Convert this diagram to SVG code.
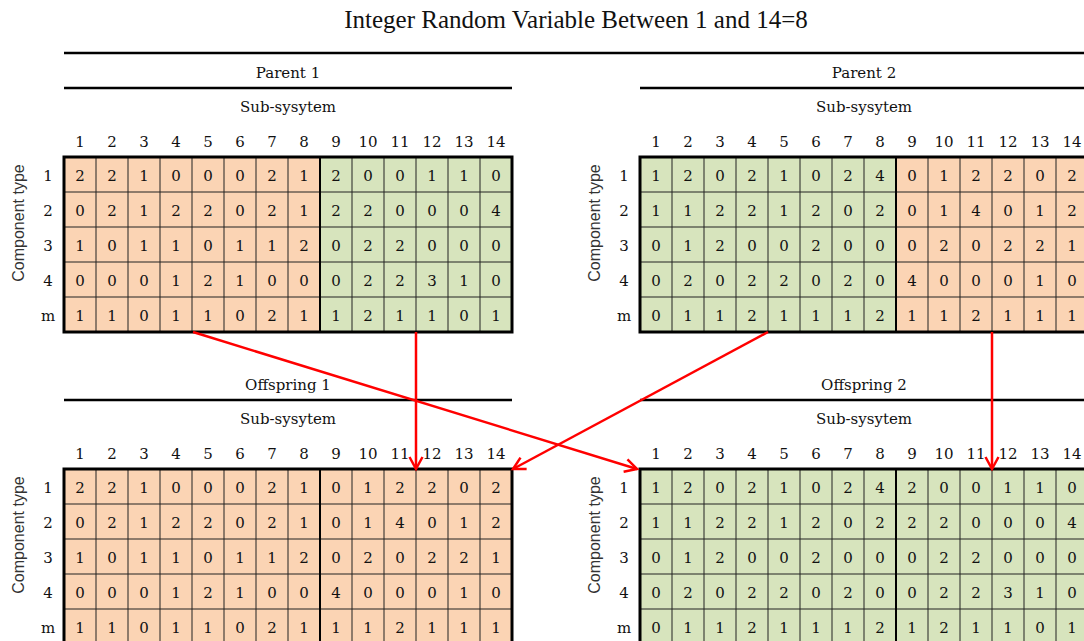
<svg xmlns="http://www.w3.org/2000/svg" xmlns:xlink="http://www.w3.org/1999/xlink" width="1084" height="641" viewBox="0 0 1084 641">
<style>
.t{font-family:"DejaVu Serif","Liberation Serif",serif;font-size:15px;fill:#111;text-anchor:middle}
.ct{font-family:"Liberation Sans",Arial,sans-serif;font-size:16px;fill:#333;text-anchor:middle}
.ti{font-family:"Liberation Serif","Times New Roman",serif;font-size:25px;fill:#111;text-anchor:middle}
.rule{stroke:#000;stroke-width:2.5;fill:none}
.thin{stroke:#222;stroke-width:1;fill:none}
.split{stroke:#000;stroke-width:2;fill:none}
.border{stroke:#000;stroke-width:3;fill:none}
.or{fill:#FBD4B4}
.gr{fill:#D7E4BD}
.arr{stroke:#FF0000;stroke-width:2.5;fill:none;marker-end:url(#ah)}
</style>
<defs>
<marker id="ah" markerUnits="userSpaceOnUse" markerWidth="18" markerHeight="18" viewBox="-15 -9 18 18" refX="0" refY="0" orient="auto">
<path d="M-12,-6.5 L0,0 L-12,6.5" fill="none" stroke="#FF0000" stroke-width="2.5"/>
</marker>
<g id="frame">
<path class="thin" d="M32 0V175M64 0V175M96 0V175M128 0V175M160 0V175M192 0V175M224 0V175M288 0V175M320 0V175M352 0V175M384 0V175M416 0V175M0 35H448M0 70H448M0 105H448M0 140H448"/>
<path class="split" d="M256 0V175"/>
<rect class="border" x="0" y="0" width="448" height="175"/>
</g>
</defs>
<rect width="1084" height="641" fill="#fff"/>
<g id="title"><text class="ti" x="576" y="28">Integer Random Variable Between 1 and 14=8</text></g>
<path class="rule" d="M64 53H1084"/>

<g id="parent1" transform="translate(64,157)">
<rect class="or" x="0" y="0" width="256" height="175"/><rect class="gr" x="256" y="0" width="192" height="175"/>
<use xlink:href="#frame"/>
<path class="rule" d="M0 -69H448"/>
<text class="t" x="224" y="-79">Parent 1</text>
<text class="t" x="224" y="-45">Sub-sysytem</text>
<text class="ct" transform="translate(-40,66) rotate(-90)">Component type</text>
<text class="t" x="16" y="-10">1</text><text class="t" x="48" y="-10">2</text><text class="t" x="80" y="-10">3</text><text class="t" x="112" y="-10">4</text><text class="t" x="144" y="-10">5</text><text class="t" x="176" y="-10">6</text><text class="t" x="208" y="-10">7</text><text class="t" x="240" y="-10">8</text><text class="t" x="272" y="-10">9</text><text class="t" x="304" y="-10">10</text><text class="t" x="336" y="-10">11</text><text class="t" x="368" y="-10">12</text><text class="t" x="400" y="-10">13</text><text class="t" x="432" y="-10">14</text>
<text class="t" x="-16" y="24">1</text><text class="t" x="-16" y="59">2</text><text class="t" x="-16" y="94">3</text><text class="t" x="-16" y="129">4</text><text class="t" x="-16" y="164">m</text>
<text class="t" x="16" y="24">2</text><text class="t" x="48" y="24">2</text><text class="t" x="80" y="24">1</text><text class="t" x="112" y="24">0</text><text class="t" x="144" y="24">0</text><text class="t" x="176" y="24">0</text><text class="t" x="208" y="24">2</text><text class="t" x="240" y="24">1</text><text class="t" x="272" y="24">2</text><text class="t" x="304" y="24">0</text><text class="t" x="336" y="24">0</text><text class="t" x="368" y="24">1</text><text class="t" x="400" y="24">1</text><text class="t" x="432" y="24">0</text>
<text class="t" x="16" y="59">0</text><text class="t" x="48" y="59">2</text><text class="t" x="80" y="59">1</text><text class="t" x="112" y="59">2</text><text class="t" x="144" y="59">2</text><text class="t" x="176" y="59">0</text><text class="t" x="208" y="59">2</text><text class="t" x="240" y="59">1</text><text class="t" x="272" y="59">2</text><text class="t" x="304" y="59">2</text><text class="t" x="336" y="59">0</text><text class="t" x="368" y="59">0</text><text class="t" x="400" y="59">0</text><text class="t" x="432" y="59">4</text>
<text class="t" x="16" y="94">1</text><text class="t" x="48" y="94">0</text><text class="t" x="80" y="94">1</text><text class="t" x="112" y="94">1</text><text class="t" x="144" y="94">0</text><text class="t" x="176" y="94">1</text><text class="t" x="208" y="94">1</text><text class="t" x="240" y="94">2</text><text class="t" x="272" y="94">0</text><text class="t" x="304" y="94">2</text><text class="t" x="336" y="94">2</text><text class="t" x="368" y="94">0</text><text class="t" x="400" y="94">0</text><text class="t" x="432" y="94">0</text>
<text class="t" x="16" y="129">0</text><text class="t" x="48" y="129">0</text><text class="t" x="80" y="129">0</text><text class="t" x="112" y="129">1</text><text class="t" x="144" y="129">2</text><text class="t" x="176" y="129">1</text><text class="t" x="208" y="129">0</text><text class="t" x="240" y="129">0</text><text class="t" x="272" y="129">0</text><text class="t" x="304" y="129">2</text><text class="t" x="336" y="129">2</text><text class="t" x="368" y="129">3</text><text class="t" x="400" y="129">1</text><text class="t" x="432" y="129">0</text>
<text class="t" x="16" y="164">1</text><text class="t" x="48" y="164">1</text><text class="t" x="80" y="164">0</text><text class="t" x="112" y="164">1</text><text class="t" x="144" y="164">1</text><text class="t" x="176" y="164">0</text><text class="t" x="208" y="164">2</text><text class="t" x="240" y="164">1</text><text class="t" x="272" y="164">1</text><text class="t" x="304" y="164">2</text><text class="t" x="336" y="164">1</text><text class="t" x="368" y="164">1</text><text class="t" x="400" y="164">0</text><text class="t" x="432" y="164">1</text>
</g>

<g id="parent2" transform="translate(640,157)">
<rect class="gr" x="0" y="0" width="256" height="175"/><rect class="or" x="256" y="0" width="192" height="175"/>
<use xlink:href="#frame"/>
<path class="rule" d="M0 -69H448"/>
<text class="t" x="224" y="-79">Parent 2</text>
<text class="t" x="224" y="-45">Sub-sysytem</text>
<text class="ct" transform="translate(-40,66) rotate(-90)">Component type</text>
<text class="t" x="16" y="-10">1</text><text class="t" x="48" y="-10">2</text><text class="t" x="80" y="-10">3</text><text class="t" x="112" y="-10">4</text><text class="t" x="144" y="-10">5</text><text class="t" x="176" y="-10">6</text><text class="t" x="208" y="-10">7</text><text class="t" x="240" y="-10">8</text><text class="t" x="272" y="-10">9</text><text class="t" x="304" y="-10">10</text><text class="t" x="336" y="-10">11</text><text class="t" x="368" y="-10">12</text><text class="t" x="400" y="-10">13</text><text class="t" x="432" y="-10">14</text>
<text class="t" x="-16" y="24">1</text><text class="t" x="-16" y="59">2</text><text class="t" x="-16" y="94">3</text><text class="t" x="-16" y="129">4</text><text class="t" x="-16" y="164">m</text>
<text class="t" x="16" y="24">1</text><text class="t" x="48" y="24">2</text><text class="t" x="80" y="24">0</text><text class="t" x="112" y="24">2</text><text class="t" x="144" y="24">1</text><text class="t" x="176" y="24">0</text><text class="t" x="208" y="24">2</text><text class="t" x="240" y="24">4</text><text class="t" x="272" y="24">0</text><text class="t" x="304" y="24">1</text><text class="t" x="336" y="24">2</text><text class="t" x="368" y="24">2</text><text class="t" x="400" y="24">0</text><text class="t" x="432" y="24">2</text>
<text class="t" x="16" y="59">1</text><text class="t" x="48" y="59">1</text><text class="t" x="80" y="59">2</text><text class="t" x="112" y="59">2</text><text class="t" x="144" y="59">1</text><text class="t" x="176" y="59">2</text><text class="t" x="208" y="59">0</text><text class="t" x="240" y="59">2</text><text class="t" x="272" y="59">0</text><text class="t" x="304" y="59">1</text><text class="t" x="336" y="59">4</text><text class="t" x="368" y="59">0</text><text class="t" x="400" y="59">1</text><text class="t" x="432" y="59">2</text>
<text class="t" x="16" y="94">0</text><text class="t" x="48" y="94">1</text><text class="t" x="80" y="94">2</text><text class="t" x="112" y="94">0</text><text class="t" x="144" y="94">0</text><text class="t" x="176" y="94">2</text><text class="t" x="208" y="94">0</text><text class="t" x="240" y="94">0</text><text class="t" x="272" y="94">0</text><text class="t" x="304" y="94">2</text><text class="t" x="336" y="94">0</text><text class="t" x="368" y="94">2</text><text class="t" x="400" y="94">2</text><text class="t" x="432" y="94">1</text>
<text class="t" x="16" y="129">0</text><text class="t" x="48" y="129">2</text><text class="t" x="80" y="129">0</text><text class="t" x="112" y="129">2</text><text class="t" x="144" y="129">2</text><text class="t" x="176" y="129">0</text><text class="t" x="208" y="129">2</text><text class="t" x="240" y="129">0</text><text class="t" x="272" y="129">4</text><text class="t" x="304" y="129">0</text><text class="t" x="336" y="129">0</text><text class="t" x="368" y="129">0</text><text class="t" x="400" y="129">1</text><text class="t" x="432" y="129">0</text>
<text class="t" x="16" y="164">0</text><text class="t" x="48" y="164">1</text><text class="t" x="80" y="164">1</text><text class="t" x="112" y="164">2</text><text class="t" x="144" y="164">1</text><text class="t" x="176" y="164">1</text><text class="t" x="208" y="164">1</text><text class="t" x="240" y="164">2</text><text class="t" x="272" y="164">1</text><text class="t" x="304" y="164">1</text><text class="t" x="336" y="164">2</text><text class="t" x="368" y="164">1</text><text class="t" x="400" y="164">1</text><text class="t" x="432" y="164">1</text>
</g>

<g id="offspring1" transform="translate(64,469)">
<rect class="or" x="0" y="0" width="448" height="175"/>
<use xlink:href="#frame"/>
<path class="rule" d="M0 -69H448"/>
<text class="t" x="224" y="-79">Offspring 1</text>
<text class="t" x="224" y="-45">Sub-sysytem</text>
<text class="ct" transform="translate(-40,66) rotate(-90)">Component type</text>
<text class="t" x="16" y="-10">1</text><text class="t" x="48" y="-10">2</text><text class="t" x="80" y="-10">3</text><text class="t" x="112" y="-10">4</text><text class="t" x="144" y="-10">5</text><text class="t" x="176" y="-10">6</text><text class="t" x="208" y="-10">7</text><text class="t" x="240" y="-10">8</text><text class="t" x="272" y="-10">9</text><text class="t" x="304" y="-10">10</text><text class="t" x="336" y="-10">11</text><text class="t" x="368" y="-10">12</text><text class="t" x="400" y="-10">13</text><text class="t" x="432" y="-10">14</text>
<text class="t" x="-16" y="24">1</text><text class="t" x="-16" y="59">2</text><text class="t" x="-16" y="94">3</text><text class="t" x="-16" y="129">4</text><text class="t" x="-16" y="164">m</text>
<text class="t" x="16" y="24">2</text><text class="t" x="48" y="24">2</text><text class="t" x="80" y="24">1</text><text class="t" x="112" y="24">0</text><text class="t" x="144" y="24">0</text><text class="t" x="176" y="24">0</text><text class="t" x="208" y="24">2</text><text class="t" x="240" y="24">1</text><text class="t" x="272" y="24">0</text><text class="t" x="304" y="24">1</text><text class="t" x="336" y="24">2</text><text class="t" x="368" y="24">2</text><text class="t" x="400" y="24">0</text><text class="t" x="432" y="24">2</text>
<text class="t" x="16" y="59">0</text><text class="t" x="48" y="59">2</text><text class="t" x="80" y="59">1</text><text class="t" x="112" y="59">2</text><text class="t" x="144" y="59">2</text><text class="t" x="176" y="59">0</text><text class="t" x="208" y="59">2</text><text class="t" x="240" y="59">1</text><text class="t" x="272" y="59">0</text><text class="t" x="304" y="59">1</text><text class="t" x="336" y="59">4</text><text class="t" x="368" y="59">0</text><text class="t" x="400" y="59">1</text><text class="t" x="432" y="59">2</text>
<text class="t" x="16" y="94">1</text><text class="t" x="48" y="94">0</text><text class="t" x="80" y="94">1</text><text class="t" x="112" y="94">1</text><text class="t" x="144" y="94">0</text><text class="t" x="176" y="94">1</text><text class="t" x="208" y="94">1</text><text class="t" x="240" y="94">2</text><text class="t" x="272" y="94">0</text><text class="t" x="304" y="94">2</text><text class="t" x="336" y="94">0</text><text class="t" x="368" y="94">2</text><text class="t" x="400" y="94">2</text><text class="t" x="432" y="94">1</text>
<text class="t" x="16" y="129">0</text><text class="t" x="48" y="129">0</text><text class="t" x="80" y="129">0</text><text class="t" x="112" y="129">1</text><text class="t" x="144" y="129">2</text><text class="t" x="176" y="129">1</text><text class="t" x="208" y="129">0</text><text class="t" x="240" y="129">0</text><text class="t" x="272" y="129">4</text><text class="t" x="304" y="129">0</text><text class="t" x="336" y="129">0</text><text class="t" x="368" y="129">0</text><text class="t" x="400" y="129">1</text><text class="t" x="432" y="129">0</text>
<text class="t" x="16" y="164">1</text><text class="t" x="48" y="164">1</text><text class="t" x="80" y="164">0</text><text class="t" x="112" y="164">1</text><text class="t" x="144" y="164">1</text><text class="t" x="176" y="164">0</text><text class="t" x="208" y="164">2</text><text class="t" x="240" y="164">1</text><text class="t" x="272" y="164">1</text><text class="t" x="304" y="164">1</text><text class="t" x="336" y="164">2</text><text class="t" x="368" y="164">1</text><text class="t" x="400" y="164">1</text><text class="t" x="432" y="164">1</text>
</g>

<g id="offspring2" transform="translate(640,469)">
<rect class="gr" x="0" y="0" width="448" height="175"/>
<use xlink:href="#frame"/>
<path class="rule" d="M0 -69H448"/>
<text class="t" x="224" y="-79">Offspring 2</text>
<text class="t" x="224" y="-45">Sub-sysytem</text>
<text class="ct" transform="translate(-40,66) rotate(-90)">Component type</text>
<text class="t" x="16" y="-10">1</text><text class="t" x="48" y="-10">2</text><text class="t" x="80" y="-10">3</text><text class="t" x="112" y="-10">4</text><text class="t" x="144" y="-10">5</text><text class="t" x="176" y="-10">6</text><text class="t" x="208" y="-10">7</text><text class="t" x="240" y="-10">8</text><text class="t" x="272" y="-10">9</text><text class="t" x="304" y="-10">10</text><text class="t" x="336" y="-10">11</text><text class="t" x="368" y="-10">12</text><text class="t" x="400" y="-10">13</text><text class="t" x="432" y="-10">14</text>
<text class="t" x="-16" y="24">1</text><text class="t" x="-16" y="59">2</text><text class="t" x="-16" y="94">3</text><text class="t" x="-16" y="129">4</text><text class="t" x="-16" y="164">m</text>
<text class="t" x="16" y="24">1</text><text class="t" x="48" y="24">2</text><text class="t" x="80" y="24">0</text><text class="t" x="112" y="24">2</text><text class="t" x="144" y="24">1</text><text class="t" x="176" y="24">0</text><text class="t" x="208" y="24">2</text><text class="t" x="240" y="24">4</text><text class="t" x="272" y="24">2</text><text class="t" x="304" y="24">0</text><text class="t" x="336" y="24">0</text><text class="t" x="368" y="24">1</text><text class="t" x="400" y="24">1</text><text class="t" x="432" y="24">0</text>
<text class="t" x="16" y="59">1</text><text class="t" x="48" y="59">1</text><text class="t" x="80" y="59">2</text><text class="t" x="112" y="59">2</text><text class="t" x="144" y="59">1</text><text class="t" x="176" y="59">2</text><text class="t" x="208" y="59">0</text><text class="t" x="240" y="59">2</text><text class="t" x="272" y="59">2</text><text class="t" x="304" y="59">2</text><text class="t" x="336" y="59">0</text><text class="t" x="368" y="59">0</text><text class="t" x="400" y="59">0</text><text class="t" x="432" y="59">4</text>
<text class="t" x="16" y="94">0</text><text class="t" x="48" y="94">1</text><text class="t" x="80" y="94">2</text><text class="t" x="112" y="94">0</text><text class="t" x="144" y="94">0</text><text class="t" x="176" y="94">2</text><text class="t" x="208" y="94">0</text><text class="t" x="240" y="94">0</text><text class="t" x="272" y="94">0</text><text class="t" x="304" y="94">2</text><text class="t" x="336" y="94">2</text><text class="t" x="368" y="94">0</text><text class="t" x="400" y="94">0</text><text class="t" x="432" y="94">0</text>
<text class="t" x="16" y="129">0</text><text class="t" x="48" y="129">2</text><text class="t" x="80" y="129">0</text><text class="t" x="112" y="129">2</text><text class="t" x="144" y="129">2</text><text class="t" x="176" y="129">0</text><text class="t" x="208" y="129">2</text><text class="t" x="240" y="129">0</text><text class="t" x="272" y="129">0</text><text class="t" x="304" y="129">2</text><text class="t" x="336" y="129">2</text><text class="t" x="368" y="129">3</text><text class="t" x="400" y="129">1</text><text class="t" x="432" y="129">0</text>
<text class="t" x="16" y="164">0</text><text class="t" x="48" y="164">1</text><text class="t" x="80" y="164">1</text><text class="t" x="112" y="164">2</text><text class="t" x="144" y="164">1</text><text class="t" x="176" y="164">1</text><text class="t" x="208" y="164">1</text><text class="t" x="240" y="164">2</text><text class="t" x="272" y="164">1</text><text class="t" x="304" y="164">2</text><text class="t" x="336" y="164">1</text><text class="t" x="368" y="164">1</text><text class="t" x="400" y="164">0</text><text class="t" x="432" y="164">1</text>
</g>

<g id="connectors">
<path class="arr" d="M193 332L637 469"/>
<path class="arr" d="M416 332L416 469"/>
<path class="arr" d="M768 332L513 469"/>
<path class="arr" d="M992 332L992 469"/>
</g>
</svg>
